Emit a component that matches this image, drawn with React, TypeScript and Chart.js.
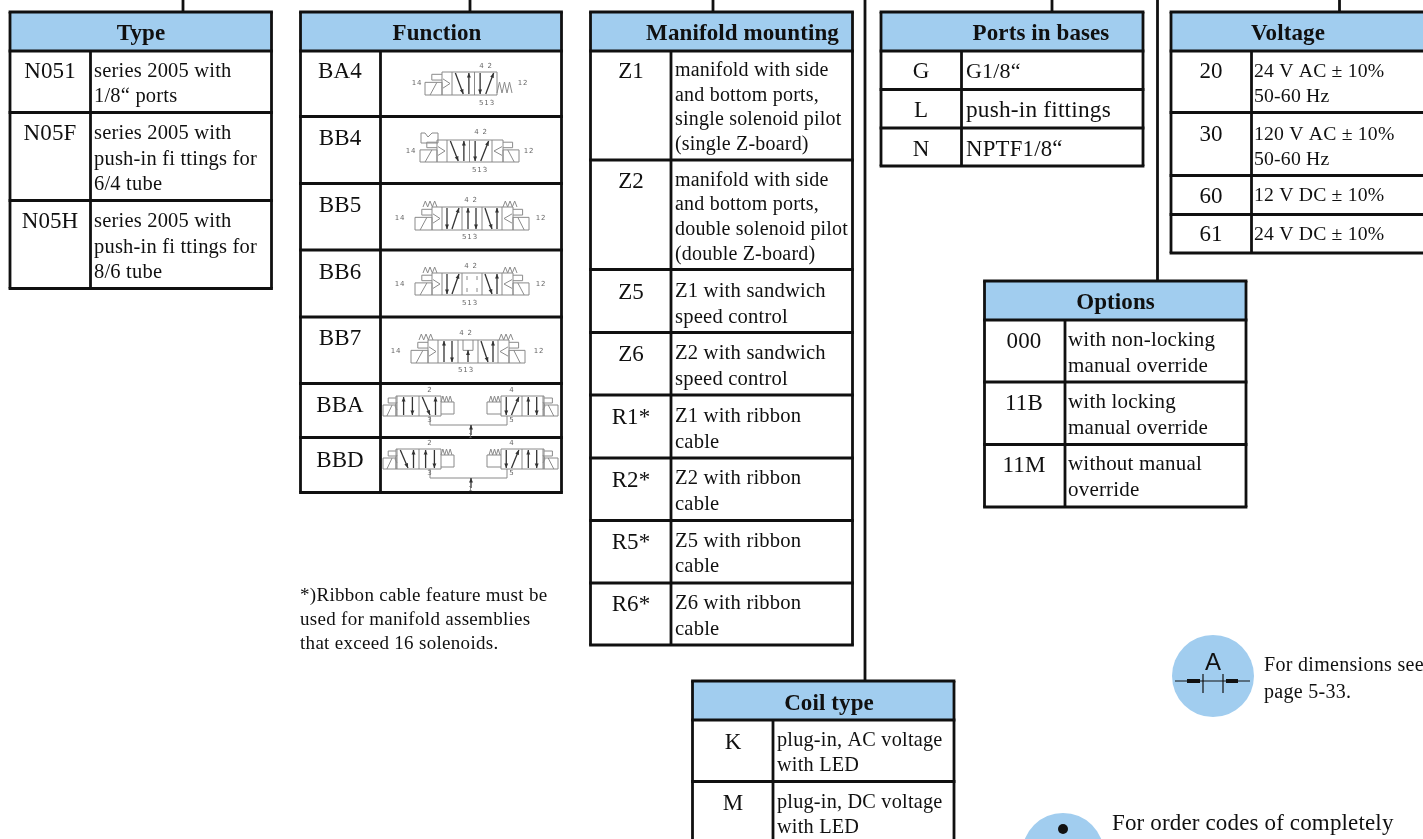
import React, { useEffect, useRef } from "react";
import { Chart, registerables } from "chart.js";

Chart.register(...registerables);

// ---- data: table contents ----
const typeCodes = ["N051", "N05F", "N05H"];
const typeTexts = [
  ["series 2005 with", "1/8“ ports"],
  ["series 2005 with", "push-in fi ttings for", "6/4 tube"],
  ["series 2005 with", "push-in fi ttings for", "8/6 tube"],
];
const functionCodes = ["BA4", "BB4", "BB5", "BB6", "BB7", "BBA", "BBD"];
const manifoldCodes = ["Z1", "Z2", "Z5", "Z6", "R1*", "R2*", "R5*", "R6*"];
const manifoldTexts = [
  ["manifold with side", "and bottom ports,", "single solenoid pilot", "(single Z-board)"],
  ["manifold with side", "and bottom ports,", "double solenoid pilot", "(double Z-board)"],
  ["Z1 with sandwich", "speed control"],
  ["Z2 with sandwich", "speed control"],
  ["Z1 with ribbon", "cable"],
  ["Z2 with ribbon", "cable"],
  ["Z5 with ribbon", "cable"],
  ["Z6 with ribbon", "cable"],
];
const portCodes = ["G", "L", "N"];
const portTexts = [["G1/8“"], ["push-in fittings"], ["NPTF1/8“"]];
const voltageCodes = ["20", "30", "60", "61"];
const voltageTexts = [
  ["24 V AC ± 10%", "50-60 Hz"],
  ["120 V AC ± 10%", "50-60 Hz"],
  ["12 V DC ± 10%"],
  ["24 V DC ± 10%"],
];
const optionCodes = ["000", "11B", "11M"];
const optionTexts = [
  ["with non-locking", "manual override"],
  ["with locking", "manual override"],
  ["without manual", "override"],
];
const coilCodes = ["K", "M"];
const coilTexts = [
  ["plug-in, AC voltage", "with LED"],
  ["plug-in, DC voltage", "with LED"],
];
const footnoteLines = ["*)Ribbon cable feature must be", "used for manifold assemblies", "that exceed 16 solenoids."];
const dimensionNote = ["For dimensions see", "page 5-33."];
const orderNote = "For order codes of completely";

// ---- layout of the tables, in the page units of the two axes ----
const BLUE = "#a1cdef";
const INK = "#101010";
const SERIF = '"Liberation Serif", serif';

type Tbl = {
  title: string; titleX: number; titleY: number; x0: number; xd: number; x1: number; rows: number[];
  codes: string[]; texts?: string[][]; codeX: number; textX: number; codeY: number[]; textY?: number[][]; textSize?: number[];
};
const tables: Tbl[] = [
  { title: "Type", titleX: 141, titleY: 40, x0: 10, xd: 90.5, x1: 271.5, rows: [12, 51, 112.5, 200.5, 288.5],
    codes: typeCodes, texts: typeTexts, codeX: 50, textX: 94, codeY: [78, 140, 228],
    textY: [[77, 102], [139, 165, 190], [227, 253, 278]], textSize: [20.5, 20.5, 20.5] },
  { title: "Function", titleX: 437, titleY: 40, x0: 300.5, xd: 380.5, x1: 561.5, rows: [12, 51, 116.5, 183.5, 250, 317, 383.5, 437.5, 492.5],
    codes: functionCodes, codeX: 340, textX: 0, codeY: [78, 145, 212, 279, 345, 412, 467] },
  { title: "Manifold mounting", titleX: 742.5, titleY: 40, x0: 590.5, xd: 671, x1: 852.5, rows: [12, 51, 160, 269.5, 332.5, 395, 458, 520.5, 583, 645],
    codes: manifoldCodes, texts: manifoldTexts, codeX: 631, textX: 675, codeY: [78, 188, 299, 361, 424, 487, 549, 611],
    textY: [[76, 101, 125, 150], [186, 210, 235, 260], [297, 323], [359, 385], [422, 448], [484, 510], [547, 572], [609, 635]],
    textSize: [20, 20, 20.6, 20.6, 20.6, 20.6, 20.6, 20.6] },
  { title: "Ports in bases", titleX: 1041, titleY: 40, x0: 881, xd: 961.5, x1: 1143, rows: [12, 51, 89.5, 128, 166],
    codes: portCodes, texts: portTexts, codeX: 921, textX: 966, codeY: [78, 117, 156], textY: [[78], [117], [156]], textSize: [22, 23.3, 22.8] },
  { title: "Voltage", titleX: 1288, titleY: 40, x0: 1171, xd: 1251.5, x1: 1436, rows: [12, 51, 112.5, 175.5, 214.5, 253],
    codes: voltageCodes, texts: voltageTexts, codeX: 1211, textX: 1254, codeY: [78, 141, 203, 241],
    textY: [[77, 102], [140, 165], [201], [240]], textSize: [19.7, 19.7, 19.7, 19.7] },
  { title: "Options", titleX: 1115.5, titleY: 309, x0: 984.5, xd: 1065, x1: 1246, rows: [281, 320, 382, 444.5, 507],
    codes: optionCodes, texts: optionTexts, codeX: 1024, textX: 1068, codeY: [348, 410, 472],
    textY: [[346, 372], [408, 434], [470, 496]], textSize: [21, 21, 21] },
  { title: "Coil type", titleX: 829, titleY: 710, x0: 692.5, xd: 773, x1: 954, rows: [681, 720, 781.5, 845],
    codes: coilCodes, texts: coilTexts, codeX: 733, textX: 777, codeY: [749, 810],
    textY: [[746, 771], [808, 833]], textSize: [20.3, 20.3] },
];
// connector rules: [x, yStart, yEnd]
const connectors = [
  [183, 0, 12], [470, 0, 12], [713, 0, 12], [865, 0, 681], [1052, 0, 12], [1157.5, 0, 281], [1339.5, 0, 12],
];
// blue callout discs
const discX = [1213, 1063];
const discY = [676, 854];

type Sym = {
  body: number; w: number; cells: string[]; top: number; left: string; right: string; h: number;
  l42?: number; y42?: number; x14?: number; x12?: number; x513?: number; y513?: number;
};
// symbol placement per row of the Function table
const symbols: Sym[] = [
  { body: 452, w: 22.5, cells: ["a", "b"], top: 72, h: 23, left: "sol", right: "spring", l42: 486, y42: 65, x14: 417, x12: 523, x513: 487, y513: 102 },
  { body: 447, w: 22.5, cells: ["a", "b"], top: 140, h: 22, left: "manual", right: "solR", l42: 481, y42: 131, x14: 411, x12: 529, x513: 480, y513: 169 },
  { body: 442, w: 20, cells: ["b", "v", "a"], top: 207, h: 23, left: "sol2", right: "solR2", l42: 471, y42: 199, x14: 400, x12: 541, x513: 470, y513: 236 },
  { body: 442, w: 20, cells: ["b", "c", "a"], top: 273, h: 22, left: "sol2", right: "solR2", l42: 471, y42: 265, x14: 400, x12: 541, x513: 470, y513: 302 },
  { body: 438, w: 20, cells: ["v", "m", "a"], top: 340, h: 23, left: "sol2", right: "solR2", l42: 466, y42: 332, x14: 396, x12: 539, x513: 466, y513: 369 },
];
const twinSymbols = [
  { top: 396, lCells: ["v", "a"], rCells: ["b", "v"] },
  { top: 449, lCells: ["a", "v"], rCells: ["b", "v"] },
];

const tablePlugin = {
  id: "tables",
  beforeDatasetsDraw(chart: any) {
    const { ctx, scales } = chart;
    const X = (v: number) => scales.x.getPixelForValue(v);
    const Y = (v: number) => scales.y.getPixelForValue(v);
    ctx.save();
    ctx.fillStyle = "#fff";
    ctx.fillRect(0, 0, chart.width, chart.height);

    const line = (pts: number[][], lw = 1, col = "#777") => {
      ctx.strokeStyle = col;
      ctx.lineWidth = lw;
      ctx.beginPath();
      pts.forEach((p, i) => (i ? ctx.lineTo(X(p[0]), Y(p[1])) : ctx.moveTo(X(p[0]), Y(p[1]))));
      ctx.stroke();
    };
    const txt = (s: string, x: number, y: number, font: string, align = "left", spacing = 0, col = INK) => {
      ctx.font = font;
      ctx.textAlign = align;
      ctx.textBaseline = "alphabetic";
      ctx.fillStyle = col;
      ctx.letterSpacing = spacing + "px";
      ctx.fillText(s, X(x), Y(y));
      ctx.letterSpacing = "0px";
    };

    connectors.forEach((c) => line([[c[0], c[1]], [c[0], c[2]]], 2.8, INK));

    tables.forEach((t) => {
      const last = t.rows.length - 1;
      ctx.fillStyle = BLUE;
      ctx.fillRect(X(t.x0), Y(t.rows[0]), X(t.x1) - X(t.x0), Y(t.rows[1]) - Y(t.rows[0]));
      t.rows.forEach((r) => line([[t.x0 - 1.4, r], [t.x1 + 1.4, r]], 2.8, INK));
      line([[t.x0, t.rows[0]], [t.x0, t.rows[last]]], 2.8, INK);
      line([[t.x1, t.rows[0]], [t.x1, t.rows[last]]], 2.8, INK);
      line([[t.xd, t.rows[1]], [t.xd, t.rows[last]]], 2.8, INK);
      txt(t.title, t.titleX, t.titleY, `bold 23px ${SERIF}`, "center", 0.1);
      t.codes.forEach((c, i) => {
        txt(c, t.codeX, t.codeY[i], `23px ${SERIF}`, "center", 0.1);
        if (t.texts && t.textY) {
          t.texts[i].forEach((s, j) => txt(s, t.textX, t.textY![i][j], `${t.textSize![i]}px ${SERIF}`, "left", 0.2));
        }
      });
    });

    // valve symbols
    const GREY = "#8a8a8a";
    const DARK = "#333";
    ctx.filter = "blur(0.45px)";
    const arrow = (x1: number, y1: number, x2: number, y2: number) => {
      line([[x1, y1], [x2, y2]], 1.3, DARK);
      const a = Math.atan2(y2 - y1, x2 - x1);
      ctx.fillStyle = DARK;
      ctx.beginPath();
      ctx.moveTo(X(x2), Y(y2));
      ctx.lineTo(X(x2 - 5 * Math.cos(a - 0.4)), Y(y2 - 5 * Math.sin(a - 0.4)));
      ctx.lineTo(X(x2 - 5 * Math.cos(a + 0.4)), Y(y2 - 5 * Math.sin(a + 0.4)));
      ctx.fill();
    };
    const cell = (k: string, x: number, y: number, w: number, h: number) => {
      if (k === "a") {
        arrow(x + w * 0.15, y + 1, x + w * 0.5, y + h - 1);
        arrow(x + w * 0.75, y + h - 1, x + w * 0.75, y + 1);
      } else if (k === "b") {
        arrow(x + w * 0.25, y + 1, x + w * 0.25, y + h - 1);
        arrow(x + w * 0.5, y + h - 1, x + w * 0.85, y + 1);
      } else if (k === "v") {
        arrow(x + w * 0.3, y + h - 1, x + w * 0.3, y + 1);
        arrow(x + w * 0.7, y + 1, x + w * 0.7, y + h - 1);
      } else if (k === "c") {
        [0.25, 0.75].forEach((f) => {
          line([[x + w * f, y + 3], [x + w * f, y + 7]], 1, GREY);
          line([[x + w * f, y + h - 7], [x + w * f, y + h - 3]], 1, GREY);
        });
      } else if (k === "m") {
        line([[x + w * 0.25, y], [x + w * 0.25, y + h * 0.45], [x + w * 0.75, y + h * 0.45], [x + w * 0.75, y]], 1, GREY);
        arrow(x + w * 0.5, y + h - 1, x + w * 0.5, y + h * 0.45);
      }
    };
    const spring = (x: number, y: number, w: number, h: number) => {
      const n = 6;
      const pts: number[][] = [];
      for (let i = 0; i <= n; i++) pts.push([x + (w * i) / n, i % 2 ? y : y + h]);
      line(pts, 1, GREY);
    };
    const solenoid = (edge: number, y: number, h: number, dir: number, opW: number, coilW: number) => {
      const xi = edge - dir * opW;
      line([[edge, y], [xi, y], [xi, y + h], [edge, y + h]], 1, GREY);
      line([[edge - dir * opW + dir * 1, y + h * 0.3], [edge - dir * 2, y + h * 0.5], [edge - dir * opW + dir * 1, y + h * 0.7]], 1, GREY);
      const xc = xi - dir * coilW;
      line([[xi, y + h * 0.45], [xc, y + h * 0.45], [xc, y + h], [xi, y + h], [xi, y + h * 0.45]], 1, GREY);
      line([[xc + dir * coilW * 0.3, y + h], [xc + dir * coilW * 0.7, y + h * 0.45]], 1, GREY);
      line([[xi, y + h * 0.1], [xc + dir * coilW * 0.4, y + h * 0.1], [xc + dir * coilW * 0.4, y + h * 0.35], [xi, y + h * 0.35]], 1, GREY);
    };
    const small = (s: string, x: number, y: number) =>
      txt(s, x, y + 2.5, '7px "DejaVu Sans", sans-serif', "center", 0.8, "#666");

    symbols.forEach((s) => {
      const w = s.w * s.cells.length;
      line([[s.body, s.top], [s.body + w, s.top], [s.body + w, s.top + s.h], [s.body, s.top + s.h], [s.body, s.top]], 1, GREY);
      s.cells.forEach((k, i) => {
        if (i) line([[s.body + i * s.w, s.top], [s.body + i * s.w, s.top + s.h]], 1, GREY);
        cell(k, s.body + i * s.w, s.top, s.w, s.h);
      });
      solenoid(s.body, s.top, s.h, 1, 10, 17);
      if (s.left === "manual") line([[421, 143], [421, 133], [425, 133], [428, 137], [432, 133], [438, 133], [438, 143], [421, 143]], 1, GREY);
      if (s.left === "sol2") spring(s.body - 19, s.top - 6, 14, 6);
      if (s.right === "spring") spring(s.body + w, s.top + 10, 15, 11);
      if (s.right === "solR" || s.right === "solR2") solenoid(s.body + w, s.top, s.h, -1, 11, 16);
      if (s.right === "solR2") spring(s.body + w + 1, s.top - 6, 14, 6);
      small("4 2", s.l42!, s.y42!);
      small("14", s.x14!, s.top + 10);
      small("12", s.x12!, s.top + 10);
      small("513", s.x513!, s.y513!);
    });

    twinSymbols.forEach((t) => {
      const y = t.top;
      line([[397, y], [441, y], [441, y + 20], [397, y + 20], [397, y]], 1, GREY);
      line([[419, y], [419, y + 20]], 1, GREY);
      cell(t.lCells[0], 397, y, 22, 20);
      cell(t.lCells[1], 419, y, 22, 20);
      solenoid(397, y, 20, 1, 1, 13);
      line([[441, y + 6], [454, y + 6], [454, y + 18], [441, y + 18]], 1, GREY);
      spring(441, y, 11, 6);
      line([[501, y], [543, y], [543, y + 20], [501, y + 20], [501, y]], 1, GREY);
      line([[522, y], [522, y + 20]], 1, GREY);
      cell(t.rCells[0], 501, y, 21, 20);
      cell(t.rCells[1], 522, y, 21, 20);
      solenoid(543, y, 20, -1, 1, 14);
      line([[501, y + 6], [487, y + 6], [487, y + 18], [501, y + 18]], 1, GREY);
      spring(489, y, 11, 6);
      line([[430, y + 20], [430, y + 29], [507, y + 29], [507, y + 20]], 1, GREY);
      arrow(471, y + 39, 471, y + 29);
      small("2", 430, y - 7);
      small("4", 512, y - 7);
      small("3", 430, y + 23);
      small("5", 512, y + 23);
      small("1", 471, y + 39);
    });
    ctx.filter = "none";

    footnoteLines.forEach((s, i) => txt(s, 300, [601, 625, 649][i], `19px ${SERIF}`, "left", 0.3));
    dimensionNote.forEach((s, i) => txt(s, 1264, [671, 698][i], `20px ${SERIF}`, "left", 0.3));
    txt(orderNote, 1112, 830, `23px ${SERIF}`, "left", 0.15);
    ctx.restore();
  },
  afterDatasetsDraw(chart: any) {
    const { ctx, scales } = chart;
    const X = (v: number) => scales.x.getPixelForValue(v);
    const Y = (v: number) => scales.y.getPixelForValue(v);
    ctx.save();
    ctx.fillStyle = "#111";
    ctx.strokeStyle = "#111";
    ctx.font = '24px "Liberation Sans", sans-serif';
    ctx.textAlign = "center";
    ctx.fillText("A", X(1213), Y(670));
    ctx.lineWidth = 1.2;
    ctx.beginPath();
    ctx.moveTo(X(1175), Y(681)); ctx.lineTo(X(1250), Y(681));
    ctx.moveTo(X(1203), Y(674)); ctx.lineTo(X(1203), Y(693));
    ctx.moveTo(X(1223), Y(674)); ctx.lineTo(X(1223), Y(693));
    ctx.stroke();
    ctx.lineWidth = 4;
    ctx.beginPath();
    ctx.moveTo(X(1187), Y(681)); ctx.lineTo(X(1200), Y(681));
    ctx.moveTo(X(1226), Y(681)); ctx.lineTo(X(1238), Y(681));
    ctx.stroke();
    ctx.beginPath();
    ctx.arc(X(1063), Y(829), 5, 0, Math.PI * 2);
    ctx.fill();
    ctx.restore();
  },
};

export default function App() {
  const ref = useRef<HTMLCanvasElement | null>(null);
  useEffect(() => {
    if (!ref.current) return;
    const chart = new Chart(ref.current, {
      type: "scatter",
      data: {
        datasets: [
          {
            label: "Callouts",
            data: discX.map((x, i) => ({ x, y: discY[i] })),
            pointRadius: 41,
            pointHoverRadius: 41,
            backgroundColor: BLUE,
            borderWidth: 0,
            clip: false,
          } as any,
        ],
      },
      options: {
        animation: false,
        responsive: false,
        layout: { padding: 0, autoPadding: false },
        events: [],
        plugins: { legend: { display: false }, tooltip: { enabled: false }, title: { display: false } },
        scales: {
          x: { type: "linear", min: 0, max: 1423, display: false },
          y: { type: "linear", min: 0, max: 839, reverse: true, display: false },
        },
      },
      plugins: [tablePlugin],
    });
    return () => chart.destroy();
  }, []);
  return (
    <canvas
      ref={ref}
      width={1423}
      height={839}
      style={{ position: "absolute", left: 0, top: 0, width: 1423, height: 839, display: "block" }}
    />
  );
}
